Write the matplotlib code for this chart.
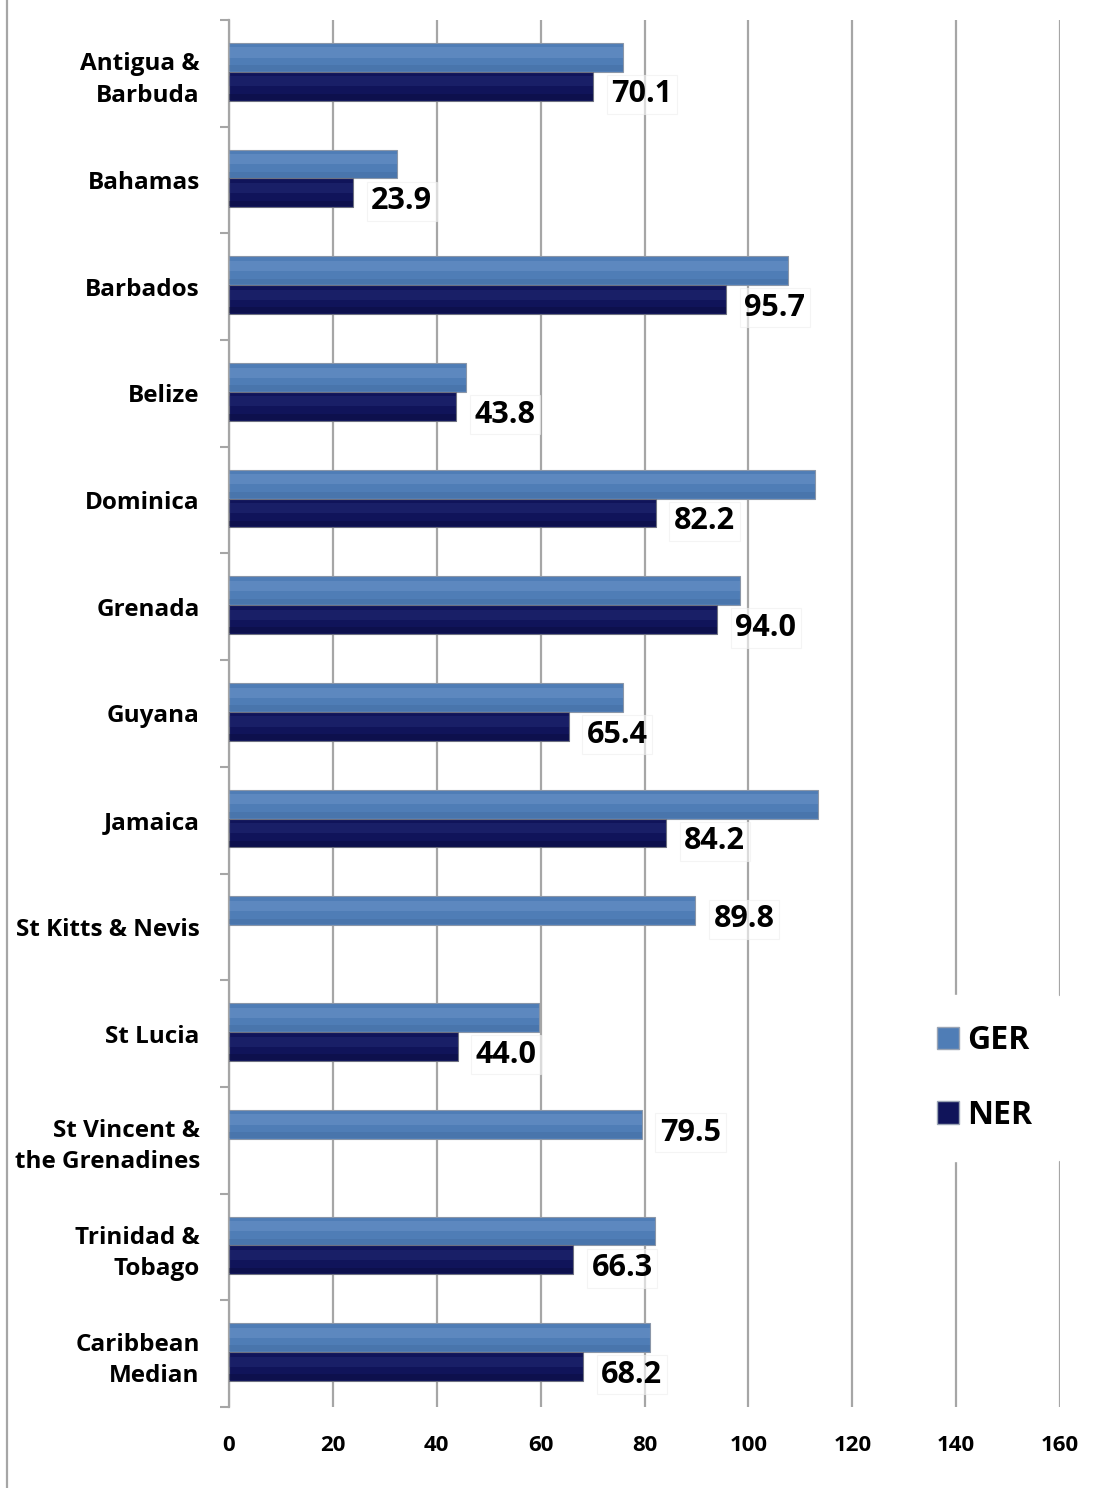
import matplotlib
matplotlib.use("Agg")
import matplotlib.pyplot as plt
from matplotlib.lines import Line2D
from matplotlib.patches import Patch
import numpy as np

# Datos
countries = ["Antigua &\nBarbuda", "Bahamas", "Barbados", "Belize", "Dominica",
             "Grenada", "Guyana", "Jamaica", "St Kitts & Nevis", "St Lucia",
             "St Vincent &\nthe Grenadines", "Trinidad &\nTobago", "Caribbean\nMedian"]
ger = [75.8, 32.4, 107.6, 45.6, 112.8, 98.4, 75.8, 113.4, 89.8, 59.7, 79.5, 82.0, 81.0]
ner = [70.1, 23.9, 95.7, 43.8, 82.2, 94.0, 65.4, 84.2, None, 44.0, None, 66.3, 68.2]
xticks = [0, 20, 40, 60, 80, 100, 120, 140, 160]

fuente = ['Open Sans', 'DejaVu Sans']
plt.rcParams['font.family'] = fuente
plt.rcParams['font.weight'] = 'bold'

fig = plt.figure(figsize=(11.03, 14.88), dpi=100)
ax = fig.add_axes([229 / 1103, 1 - 1407 / 1488, (1060 - 229) / 1103, (1407 - 20) / 1488])

n = len(countries)
y = np.arange(n)
h = 0.27
ger_c = "#4f7db6"
ner_c = "#10145a"

# Barras GER
ax.barh(y - 0.15, ger, height=h, color=ger_c, edgecolor="#8a96a8", linewidth=0.8, zorder=3)
ax.barh(y - 0.15 - 0.045, ger, height=h * 0.35, color="#8fb3e0", alpha=0.22, linewidth=0, zorder=4)
ax.barh(y - 0.15 + 0.1, ger, height=h * 0.2, color="#3a5f8f", alpha=0.25, linewidth=0, zorder=4)

# Barras NER (solo donde hay dato)
ner_y = np.array([yy for yy, v in zip(y, ner) if v is not None])
ner_v = [v for v in ner if v is not None]
ax.barh(ner_y + 0.12, ner_v, height=h, color=ner_c, edgecolor="#6d7080", linewidth=0.8, zorder=3)
ax.barh(ner_y + 0.12 - 0.045, ner_v, height=h * 0.35, color="#3c4896", alpha=0.22, linewidth=0, zorder=4)
ax.barh(ner_y + 0.12 + 0.1, ner_v, height=h * 0.2, color="#070a30", alpha=0.3, linewidth=0, zorder=4)

# Etiquetas de valor
for i in range(n):
    if ner[i] is not None:
        val, yy = ner[i], i + 0.12
    else:
        val, yy = ger[i], i - 0.15
    ax.annotate(f"{val:.1f}", xy=(val, yy), xytext=(13, -6), textcoords="offset points",
                ha="left", va="center", fontsize=22, fontweight="bold", zorder=6,
                bbox=dict(boxstyle="square,pad=0.15", facecolor="white", alpha=0.6,
                          edgecolor="#eeeeee", linewidth=0.8))

# Ejes
ax.set_xlim(0, 160)
ax.set_ylim(n - 0.5, -0.5)
ax.set_xticks(xticks)
ax.set_xticklabels([str(t) for t in xticks], fontsize=16, fontweight="bold")
ax.set_yticks(y)
ax.set_yticklabels(countries, fontsize=17.5, fontweight="bold", linespacing=1.4)
ax.set_yticks(np.arange(n + 1) - 0.5, minor=True)
ax.tick_params(axis="y", which="major", length=0, pad=21)
ax.tick_params(axis="y", which="minor", length=6.5, width=1.5, color="#a6a6a6", direction="out")
ax.tick_params(axis="x", which="major", length=0, pad=20)

for s in ["top", "right", "bottom"]:
    ax.spines[s].set_visible(False)
ax.spines["left"].set_color("#a6a6a6")
ax.spines["left"].set_linewidth(1.6)

ax.grid(axis="x", color="#a6a6a6", linewidth=1.6, zorder=0)
ax.set_axisbelow(True)

# Leyenda
handles = [Patch(facecolor=ger_c, edgecolor="#9aa4b4"), Patch(facecolor=ner_c, edgecolor="#9aa4b4")]
leg = fig.legend(handles, ["GER", "NER"], loc="center left", bbox_to_anchor=(892 / 1103, 1 - 1078 / 1488),
                 prop=dict(family=fuente, weight="bold", size=23),
                 handlelength=0.7, handleheight=0.7, handletextpad=0.25, labelspacing=1.3,
                 frameon=True, facecolor="white", edgecolor="white", framealpha=1, borderpad=0.9)

# Marco exterior
fig.add_artist(Line2D([7 / 1103, 7 / 1103], [0, 1], color="#a6a6a6", linewidth=1.6))

fig.savefig("out.png", dpi=100)
